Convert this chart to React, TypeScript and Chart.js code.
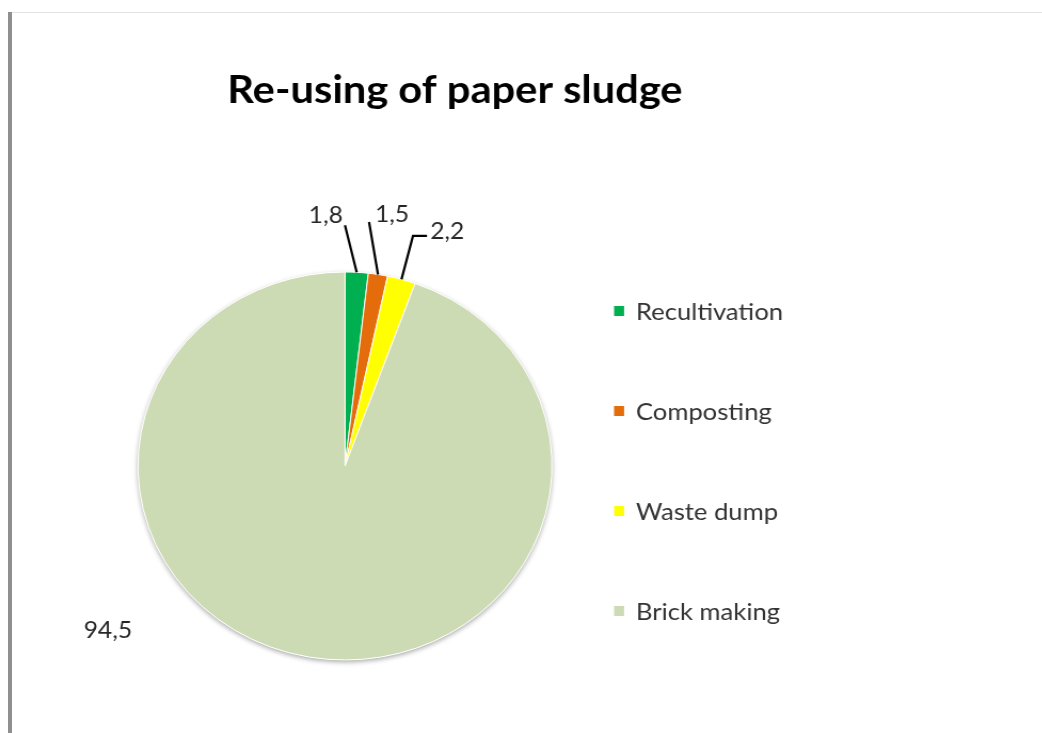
import React, { useEffect, useRef } from "react";
import { Chart, registerables } from "chart.js";

Chart.register(...registerables);

// ---- data ----
const categories = ["Recultivation", "Composting", "Waste dump", "Brick making"];
const values = [1.8, 1.5, 2.2, 94.5];
const sliceColors = ["#00b050", "#e46c0a", "#ffff00", "#cddbb4"];
const titleText = "Re-using of paper sludge";

// ---- styles / layout (logical canvas px; canvas is stretched horizontally by SX) ----
const SX = 1.067;
const CW = 977;
const CH = 733;
const FONT = "Lato, 'Open Sans', sans-serif";

type LabelStyle = {
  line: [number, number][];
  tdx: number;
  tdy: number;
  align: CanvasTextAlign;
};
const labelStyles: LabelStyle[] = [
  { line: [[-11, -47]], tdx: -2, tdy: -10, align: "right" },
  { line: [[-8.4, -52.5]], tdx: 5.6, tdy: -7, align: "left" },
  { line: [[10.8, -43.4], [23.9, -43.4]], tdx: 3, tdy: -4, align: "left" },
  { line: [], tdx: -188.8, tdy: -27, align: "center" },
];

const shadowPlugin = {
  id: "pieShadow",
  beforeDatasetsDraw(chart: any) {
    const arc = chart.getDatasetMeta(0).data[0];
    if (!arc) return;
    const { x, y, outerRadius } = arc.getProps(["x", "y", "outerRadius"], true);
    const ctx = chart.ctx;
    ctx.save();
    ctx.shadowColor = "rgba(0,0,0,0.35)";
    ctx.shadowBlur = 5;
    ctx.shadowOffsetY = 2;
    ctx.beginPath();
    ctx.arc(x, y, outerRadius, 0, Math.PI * 2);
    ctx.fillStyle = "#ffffff";
    ctx.fill();
    ctx.restore();
  },
};

const labelPlugin = {
  id: "valueLabels",
  afterDatasetsDraw(chart: any) {
    const ctx = chart.ctx;
    const meta = chart.getDatasetMeta(0);
    meta.data.forEach((arc: any, i: number) => {
      const { x, y, startAngle, endAngle, outerRadius } = arc.getProps(
        ["x", "y", "startAngle", "endAngle", "outerRadius"],
        true
      );
      const a = (startAngle + endAngle) / 2;
      const ex = x + outerRadius * Math.cos(a);
      const ey = y + outerRadius * Math.sin(a);
      const st = labelStyles[i];
      let lx = ex;
      let ly = ey;
      ctx.save();
      if (st.line.length) {
        ctx.beginPath();
        ctx.moveTo(ex, ey);
        st.line.forEach(([dx, dy]) => {
          lx = ex + dx;
          ly = ey + dy;
          ctx.lineTo(lx, ly);
        });
        ctx.strokeStyle = "#000000";
        ctx.lineWidth = 2.2;
        ctx.stroke();
      }
      ctx.fillStyle = "#262626";
      ctx.font = `23px ${FONT}`;
      ctx.textAlign = st.align;
      ctx.textBaseline = "middle";
      ctx.fillText(String(values[i]).replace(".", ","), lx + st.tdx, ly + st.tdy);
      ctx.restore();
    });
  },
};

const legendPlugin = {
  id: "sideLegend",
  afterDraw(chart: any) {
    const ctx = chart.ctx;
    const labels: string[] = chart.data.labels;
    const colors: string[] = chart.data.datasets[0].backgroundColor;
    ctx.save();
    labels.forEach((lab, i) => {
      const cy = 311 + i * 100;
      ctx.fillStyle = colors[i];
      ctx.fillRect(575.5, cy - 5, 9.4, 10);
      ctx.fillStyle = "#333333";
      ctx.font = `24px ${FONT}`;
      ctx.textAlign = "left";
      ctx.textBaseline = "middle";
      ctx.fillText(lab, 596, cy + 1);
    });
    ctx.restore();
  },
};

const titlePlugin = {
  id: "chartTitle",
  afterDraw(chart: any) {
    const ctx = chart.ctx;
    ctx.save();
    ctx.fillStyle = "#000000";
    ctx.font = `bold 39px ${FONT}`;
    ctx.textAlign = "center";
    ctx.textBaseline = "middle";
    ctx.fillText(titleText, 426.4, 90);
    ctx.restore();
  },
};

export default function App() {
  const ref = useRef<HTMLCanvasElement>(null);
  useEffect(() => {
    if (!ref.current) return;
    const chart = new Chart(ref.current, {
      type: "pie",
      data: {
        labels: categories,
        datasets: [
          {
            data: values,
            backgroundColor: sliceColors,
            borderColor: "#ffffff",
            borderWidth: 1,
            radius: 194,
          } as any,
        ],
      },
      options: {
        responsive: false,
        animation: false,
        devicePixelRatio: 1,
        layout: { padding: { left: 0, right: 330.4, top: 199, bottom: 0 } },
        plugins: {
          legend: { display: false },
          tooltip: { enabled: false },
          title: { display: false },
        },
      },
      plugins: [shadowPlugin, labelPlugin, legendPlugin, titlePlugin],
    });
    return () => chart.destroy();
  }, []);

  return (
    <div
      style={{
        position: "fixed",
        left: 0,
        top: 0,
        width: 1042,
        height: 733,
        background: "#ffffff",
        overflow: "hidden",
      }}
    >
      <div style={{ position: "absolute", left: 8, top: 12, width: 4, height: 721, background: "#8f8f8f" }} />
      <div style={{ position: "absolute", left: 12, top: 12, right: 0, height: 1, background: "#e3e3e3" }} />
      <canvas
        ref={ref}
        width={CW}
        height={CH}
        style={{
          position: "absolute",
          left: 0,
          top: 0,
          width: CW,
          height: CH,
          transform: `scaleX(${SX})`,
          transformOrigin: "0 0",
        }}
      />
    </div>
  );
}
